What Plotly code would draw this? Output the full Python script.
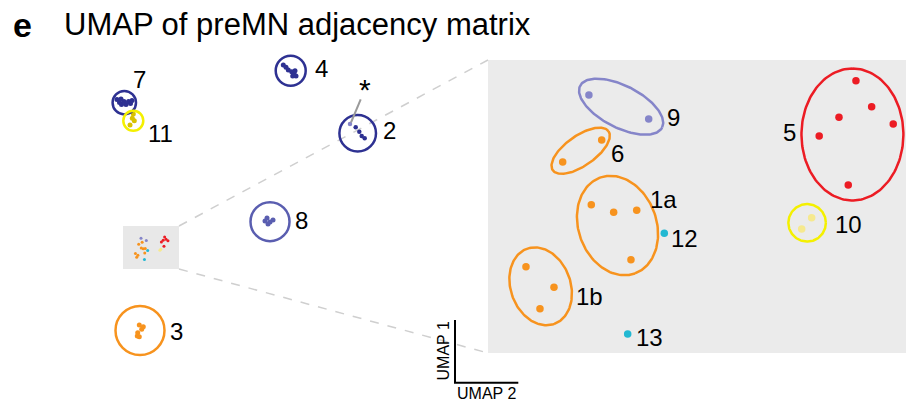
import numpy as np
import plotly.graph_objects as go

W, H = 906, 401

# ---------------- UMAP embedding (UMAP 2 = x, UMAP 1 = y) ----------------
# overview clusters
c7_x = [11.70, 11.95, 12.15, 12.40, 12.60, 12.85, 13.05, 13.20, 12.10]
c7_y = [30.15, 29.85, 29.65, 29.95, 29.65, 29.95, 29.75, 30.05, 30.20]
c11_x = [13.33, 13.23, 13.43, 13.00]
c11_y = [28.70, 28.27, 28.03, 27.60]
c4_x = [28.33, 28.60, 28.83, 29.17, 29.40, 29.60, 29.27, 29.50]
c4_y = [33.60, 33.37, 33.10, 32.93, 32.70, 32.50, 32.50, 33.03]
c2_x = [35.57, 35.93, 36.17, 36.47]
c2_y = [27.37, 26.93, 26.50, 26.27]
star_x = [35.00]
star_y = [27.70]
c8_x = [26.50, 26.70, 27.00, 27.30, 26.80]
c8_y = [18.00, 18.30, 17.90, 18.10, 17.70]
c3_x = [13.93, 14.17, 13.77, 13.73, 13.93, 14.33]
c3_y = [7.60, 7.17, 6.83, 6.50, 6.43, 7.43]

# clusters inside the zoomed region
c9_x = [14.102, 14.631]
c9_y = [16.269, 16.057]
c6_x = [14.215, 13.870]
c6_y = [15.871, 15.676]
c1a_x = [14.123, 14.321, 14.525, 14.474]
c1a_y = [15.298, 15.231, 15.249, 14.812]
c12_x = [14.769]
c12_y = [15.045]
c1b_x = [13.545, 13.793, 13.669]
c1b_y = [14.750, 14.568, 14.378]
c13_x = [14.445]
c13_y = [14.154]
c5_x = [16.465, 16.604, 16.315, 16.795, 16.140, 16.397]
c5_y = [16.396, 16.166, 16.072, 16.013, 15.906, 15.473]
c10_x = [16.073, 15.985]
c10_y = [15.183, 15.083]

# colours
NAVY = "#2e3192"
SLATE = "#5a5eb0"
LAV = "#8585c9"
ORANGE = "#f7931e"
RED = "#ec1c24"
YELLOW = "#f4f000"
PALE_Y = "#f6e98e"
OLIVE_Y = "#d8c200"
CYAN = "#22b8d2"
FONT = "Liberation Sans, Arial, sans-serif"

# axis geometry
X2_DOM = [488 / W, 1.0]
Y2_DOM = [1 - 353 / H, 1 - 60 / H]
X2_RANGE = [13.209, 16.908]
Y2_RANGE = [13.986, 16.579]
ZOOM_BOX = [12.3, 13.2, 17.9, 17.5]  # x0, y0, x1, y1 in overview units

fig = go.Figure()


def dots(x, y, color, size, axes="main"):
    xa, ya = ("x", "y") if axes == "main" else ("x2", "y2")
    fig.add_trace(go.Scatter(x=x, y=y, mode="markers", xaxis=xa, yaxis=ya,
                             marker=dict(color=color, size=size, line=dict(width=0)),
                             hoverinfo="skip", showlegend=False))


def ellipse(cx, cy, a, b, ang, color, width=2.5):
    t = np.linspace(0, 2 * np.pi, 160)
    th = np.deg2rad(ang)
    ex = cx + a * np.cos(t) * np.cos(th) - b * np.sin(t) * np.sin(th)
    ey = cy + a * np.cos(t) * np.sin(th) + b * np.sin(t) * np.cos(th)
    fig.add_trace(go.Scatter(x=ex, y=ey, mode="lines", xaxis="x2", yaxis="y2",
                             line=dict(color=color, width=width),
                             hoverinfo="skip", showlegend=False))


# overview dots
dots(c7_x, c7_y, NAVY, 5)
dots(c11_x, c11_y, OLIVE_Y, 5)
dots(c4_x, c4_y, NAVY, 5)
dots(c2_x, c2_y, NAVY, 4.5)
dots(star_x, star_y, LAV, 4.5)
dots(c8_x, c8_y, SLATE, 5)
dots(c3_x, c3_y, ORANGE, 5)

inset = [
    (c9_x, c9_y, LAV), (c6_x, c6_y, ORANGE), (c1a_x, c1a_y, ORANGE),
    (c12_x, c12_y, CYAN), (c1b_x, c1b_y, ORANGE), (c13_x, c13_y, CYAN),
    (c5_x, c5_y, RED), (c10_x, c10_y, PALE_Y),
]
# the same points, small in the overview and enlarged in the zoom panel
for xs, ys, col in inset:
    dots(xs, ys, col, 3)
for xs, ys, col in inset:
    dots(xs, ys, col, 7.5, axes="zoom")

# enclosing ellipses in the zoom panel
ellipse(14.387, 16.166, 0.407, 0.186, -27, LAV)
ellipse(14.029, 15.776, 0.301, 0.133, 35, ORANGE)
ellipse(14.355, 15.114, 0.451, 0.345, -70, ORANGE)
ellipse(13.675, 14.576, 0.354, 0.265, -70, ORANGE)
ellipse(16.434, 15.920, 0.584, 0.451, 90, RED)
ellipse(16.033, 15.138, 0.166, 0.166, 0, YELLOW)

shapes = []
# zoom panel background and overview box
shapes.append(dict(type="rect", xref="x2 domain", yref="y2 domain", x0=0, x1=1, y0=0, y1=1,
                   fillcolor="#ebebeb", line=dict(width=0), layer="below"))
shapes.append(dict(type="rect", xref="x", yref="y", x0=ZOOM_BOX[0], y0=ZOOM_BOX[1],
                   x1=ZOOM_BOX[2], y1=ZOOM_BOX[3], fillcolor="#e8e8e8",
                   line=dict(width=0), layer="below"))
# connector lines from overview box to panel corners
px_left = X2_DOM[0] * W / 10
py_top = Y2_DOM[1] * H / 10
py_bot = Y2_DOM[0] * H / 10
for (ya, yb) in [(ZOOM_BOX[3], py_top), (ZOOM_BOX[1], py_bot)]:
    shapes.append(dict(type="line", xref="x", yref="y", x0=ZOOM_BOX[2], y0=ya,
                       x1=px_left, y1=yb, line=dict(color="#cfcfcf", width=1.5, dash="dash"),
                       layer="below"))

# overview cluster circles
for cx, cy, r, col in [(12.43, 29.83, 1.17, NAVY), (13.33, 28.03, 1.00, YELLOW),
                       (29.07, 33.03, 1.50, NAVY), (35.77, 26.77, 1.83, NAVY),
                       (27.00, 17.93, 1.95, SLATE), (14.00, 7.05, 2.45, ORANGE)]:
    shapes.append(dict(type="circle", xref="x", yref="y", x0=cx - r, x1=cx + r,
                       y0=cy - r, y1=cy + r, line=dict(color=col, width=2.5)))
# pointer to the starred neuron
shapes.append(dict(type="line", xref="x", yref="y", x0=36.07, y0=30.17, x1=35.1, y1=27.85,
                   line=dict(color="#9a9a9a", width=2)))
# UMAP axis indicator
shapes.append(dict(type="line", xref="x", yref="y", x0=45.5, y0=8.1, x1=45.5, y1=1.83,
                   line=dict(color="black", width=2)))
shapes.append(dict(type="line", xref="x", yref="y", x0=45.4, y0=1.83, x1=51.83, y1=1.83,
                   line=dict(color="black", width=2)))

annotations = []


def label(text, x, y, ref="main", size=24, **kw):
    xr, yr = ("x", "y") if ref == "main" else ("x2", "y2")
    annotations.append(dict(text=text, x=x, y=y, xref=xr, yref=yr, showarrow=False,
                            xanchor="center", yanchor="middle",
                            font=dict(family=FONT, size=size, color="black"), **kw))


for t, x, y in [("7", 13.93, 32.17), ("11", 16.0, 26.8), ("4", 32.17, 33.3),
                ("2", 38.9, 27.1), ("8", 30.17, 18.1), ("3", 17.6, 6.95)]:
    label(t, x, y)
label("*", 36.5, 31.15, size=30)
for t, x, y in [("9", 14.848, 16.073), ("6", 14.356, 15.749), ("1a", 14.760, 15.345),
                ("12", 14.946, 15.0), ("1b", 14.111, 14.489), ("13", 14.642, 14.12),
                ("5", 15.875, 15.935), ("10", 16.397, 15.124)]:
    label(t, x, y, ref="zoom")

label("UMAP 1", 44.3, 4.95, size=16, textangle=-90)
label("UMAP 2", 48.6, 0.72, size=16)

annotations.append(dict(text="<b>e</b>", x=22.5 / W, y=1 - 25 / H, xref="paper", yref="paper",
                        showarrow=False, xanchor="center", yanchor="middle",
                        font=dict(family=FONT, size=34, color="black")))
annotations.append(dict(text="UMAP of preMN adjacency matrix", x=62 / W, y=1 - 24 / H,
                        xref="paper", yref="paper", showarrow=False, xanchor="left",
                        yanchor="middle", font=dict(family=FONT, size=31, color="black")))

hidden = dict(visible=False, showgrid=False, zeroline=False, fixedrange=True)
fig.update_layout(
    width=W, height=H, margin=dict(l=0, r=0, t=0, b=0),
    paper_bgcolor="white", plot_bgcolor="rgba(0,0,0,0)",
    xaxis=dict(domain=[0, 1], range=[0, W / 10], **hidden),
    yaxis=dict(domain=[0, 1], range=[0, H / 10], **hidden),
    xaxis2=dict(domain=X2_DOM, range=X2_RANGE, anchor="y2", **hidden),
    yaxis2=dict(domain=Y2_DOM, range=Y2_RANGE, anchor="x2", **hidden),
    shapes=shapes, annotations=annotations, showlegend=False,
)

fig.write_html("out.html")
